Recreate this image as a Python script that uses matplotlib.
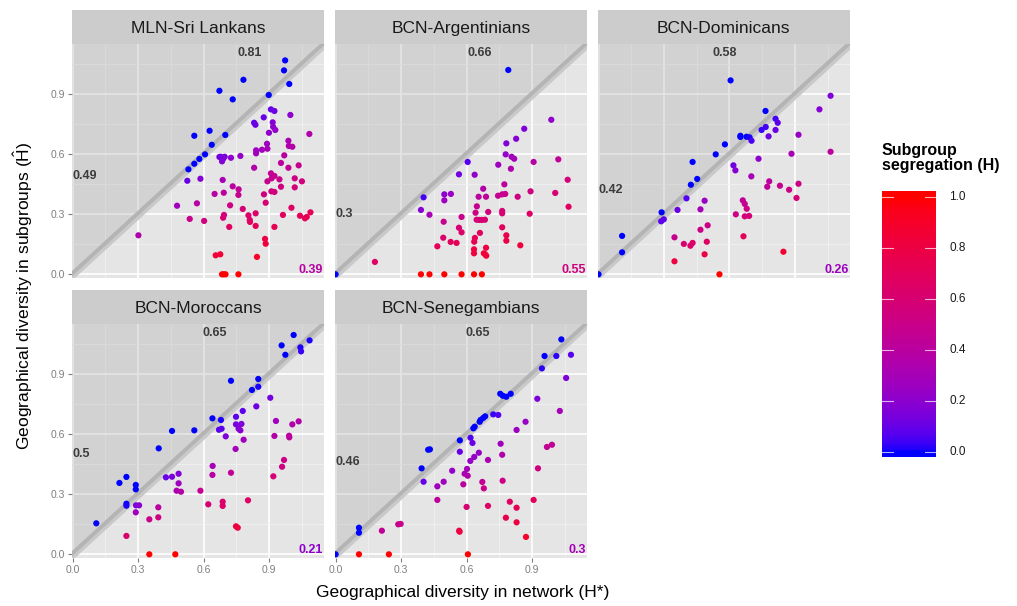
import matplotlib
matplotlib.use("Agg")
import matplotlib.pyplot as plt
import matplotlib.patheffects as pe
import numpy as np
from matplotlib.colors import ListedColormap

plt.rcParams['font.family'] = ['Liberation Sans', 'DejaVu Sans']
plt.rcParams['mathtext.fontset'] = 'custom'
plt.rcParams['mathtext.rm'] = 'Liberation Sans'
plt.rcParams['mathtext.it'] = 'Liberation Sans:italic'
plt.rcParams['mathtext.bf'] = 'Liberation Sans:bold'

# point data per community: network diversity, subgroup diversity, segregation
sri_x = [0.973, 0.968, 0.992, 0.782, 0.672, 0.733, 0.898, 0.557, 0.627, 0.699, 0.637, 0.606, 0.580, 0.557, 0.530,
         0.525, 0.585, 0.301, 0.478, 0.536, 0.569, 0.602, 0.650, 0.672, 0.678, 0.689, 0.696, 0.684, 0.725,
         0.687, 0.692, 0.733, 0.760, 0.768, 0.759, 0.721, 0.693, 0.689, 0.717, 0.779, 0.805, 0.811, 0.812,
         0.838, 0.838, 0.831, 0.831, 0.837, 0.875, 0.840, 0.840, 0.867, 0.890, 0.892, 0.899, 0.908, 0.924,
         0.916, 0.918, 0.928, 0.997, 1.084, 0.988, 0.990, 1.006, 0.969, 0.954, 0.908, 0.924, 0.892, 0.911,
         0.947, 0.988, 1.035, 1.017, 1.050, 0.910, 0.924, 0.954, 1.017, 0.876, 0.884, 1.002, 0.963, 0.924,
         1.041, 1.064, 1.072, 1.089, 0.881, 0.884, 0.844, 0.655, 0.676, 0.684, 0.692, 0.700, 0.759]
sri_y = [1.070, 1.020, 0.952, 0.973, 0.918, 0.875, 0.897, 0.693, 0.718, 0.697, 0.648, 0.600, 0.577, 0.553, 0.525,
         0.468, 0.478, 0.195, 0.343, 0.277, 0.355, 0.267, 0.402, 0.587, 0.588, 0.578, 0.588, 0.565, 0.583,
         0.472, 0.408, 0.440, 0.425, 0.592, 0.397, 0.345, 0.297, 0.283, 0.237, 0.327, 0.295, 0.272, 0.262,
         0.305, 0.242, 0.533, 0.758, 0.748, 0.785, 0.620, 0.605, 0.623, 0.653, 0.628, 0.708, 0.825, 0.817,
         0.760, 0.738, 0.722, 0.797, 0.702, 0.668, 0.642, 0.638, 0.595, 0.557, 0.505, 0.492, 0.465, 0.480,
         0.475, 0.533, 0.545, 0.480, 0.465, 0.415, 0.412, 0.438, 0.435, 0.400, 0.358, 0.333, 0.297, 0.237,
         0.293, 0.280, 0.287, 0.310, 0.177, 0.153, 0.087, 0.095, 0.100, 0.0, 0.0, 0.0, 0.0]
sri_h = [0.0, 0.0, 0.0, 0.0, 0.0, 0.0, 0.0, 0.0, 0.0, 0.0, 0.0, 0.0, 0.0, 0.0, 0.0,
         0.10, 0.18, 0.35, 0.28, 0.48, 0.38, 0.56, 0.38, 0.13, 0.13, 0.16, 0.15, 0.17, 0.20,
         0.31, 0.41, 0.40, 0.44, 0.23, 0.48, 0.52, 0.57, 0.59, 0.67, 0.58, 0.63, 0.66, 0.68,
         0.64, 0.71, 0.36, 0.09, 0.11, 0.10, 0.26, 0.28, 0.28, 0.27, 0.30, 0.21, 0.09, 0.12,
         0.17, 0.20, 0.22, 0.20, 0.35, 0.32, 0.35, 0.37, 0.39, 0.42, 0.44, 0.47, 0.48, 0.47,
         0.50, 0.46, 0.47, 0.53, 0.56, 0.54, 0.55, 0.54, 0.57, 0.54, 0.60, 0.67, 0.69, 0.74,
         0.72, 0.74, 0.73, 0.72, 0.80, 0.83, 0.90, 0.86, 0.85, 1.0, 1.0, 1.0, 1.0]

arg_x = [0.791, 0.605, 0.565, 0.403, 0.391, 0.430, 0.180, 0.0, 0.988, 0.864, 0.827, 0.782, 0.779, 0.806, 0.818,
         0.745, 0.803, 0.907, 1.020, 0.637, 0.676, 0.773, 1.063, 0.893, 1.006, 1.067, 0.498, 0.528, 0.498,
         0.655, 0.689, 0.744, 0.763, 0.777, 0.834, 0.647, 0.641, 0.699, 0.763, 0.763, 0.889, 0.495, 0.577,
         0.646, 0.658, 0.670, 0.684, 0.565, 0.577, 0.661, 0.763, 0.782, 0.782, 0.493, 0.527, 0.554, 0.466,
         0.638, 0.635, 0.634, 0.634, 0.689, 0.679, 0.690, 0.685, 0.846,
         0.391, 0.430, 0.498, 0.577, 0.634, 0.670]
arg_y = [1.022, 0.562, 0.500, 0.385, 0.322, 0.298, 0.062, 0.0, 0.773, 0.728, 0.678, 0.655, 0.600, 0.588, 0.578,
         0.548, 0.528, 0.562, 0.575, 0.498, 0.428, 0.450, 0.473, 0.415, 0.407, 0.338, 0.400, 0.402, 0.370,
         0.388, 0.388, 0.393, 0.400, 0.402, 0.388, 0.340, 0.308, 0.312, 0.317, 0.305, 0.303, 0.263, 0.287,
         0.273, 0.272, 0.272, 0.273, 0.233, 0.210, 0.207, 0.235, 0.195, 0.168, 0.183, 0.162, 0.157, 0.140,
         0.182, 0.163, 0.125, 0.105, 0.133, 0.105, 0.093, 0.100, 0.145,
         0.0, 0.0, 0.0, 0.0, 0.0, 0.0]
arg_h = [0.0, 0.07, 0.12, 0.04, 0.18, 0.31, 0.66, 0.0, 0.22, 0.16, 0.18, 0.16, 0.23, 0.27, 0.29,
         0.26, 0.34, 0.38, 0.44, 0.22, 0.37, 0.42, 0.56, 0.54, 0.60, 0.68, 0.20, 0.24, 0.26,
         0.41, 0.44, 0.47, 0.48, 0.48, 0.53, 0.47, 0.52, 0.55, 0.58, 0.60, 0.66, 0.47, 0.50,
         0.58, 0.59, 0.59, 0.60, 0.59, 0.64, 0.69, 0.69, 0.75, 0.79, 0.63, 0.69, 0.72, 0.70,
         0.71, 0.74, 0.80, 0.83, 0.81, 0.85, 0.87, 0.85, 0.83,
         1.0, 1.0, 1.0, 1.0, 1.0, 1.0]

dom_x = [0.605, 1.063, 1.012, 0.765, 0.811, 0.821, 0.766, 0.747, 0.811, 0.779, 0.916, 0.650, 0.650, 0.678, 0.692,
         0.701, 0.579, 0.537, 0.431, 0.733, 0.884, 1.063, 0.618, 0.627, 0.700, 0.452, 0.423, 0.782, 0.773,
         0.831, 0.873, 0.916, 0.907, 0.403, 0.486, 0.362, 0.467, 0.289, 0.287, 0.299, 0.108, 0.108, 0.0,
         0.661, 0.670, 0.679, 0.629, 0.670, 0.690, 0.500, 0.467, 0.348, 0.391, 0.421, 0.431, 0.496, 0.486,
         0.348, 0.664, 0.847, 0.554]
dom_y = [0.970, 0.893, 0.825, 0.817, 0.778, 0.758, 0.737, 0.722, 0.722, 0.690, 0.698, 0.693, 0.687, 0.688, 0.685,
         0.668, 0.650, 0.600, 0.562, 0.578, 0.603, 0.613, 0.545, 0.520, 0.490, 0.477, 0.448, 0.465, 0.438,
         0.443, 0.423, 0.453, 0.382, 0.380, 0.368, 0.322, 0.325, 0.310, 0.265, 0.275, 0.192, 0.110, 0.0,
         0.370, 0.352, 0.328, 0.300, 0.290, 0.292, 0.245, 0.223, 0.185, 0.152, 0.143, 0.157, 0.163, 0.100,
         0.065, 0.190, 0.113, 0.0]
dom_h = [0.0, 0.16, 0.18, 0.0, 0.04, 0.08, 0.04, 0.03, 0.11, 0.11, 0.24, 0.0, 0.0, 0.0, 0.01,
         0.05, 0.0, 0.0, 0.0, 0.21, 0.32, 0.42, 0.12, 0.17, 0.30, 0.0, 0.0, 0.41, 0.43,
         0.47, 0.52, 0.51, 0.58, 0.06, 0.24, 0.11, 0.30, 0.0, 0.08, 0.08, 0.0, 0.0, 0.0,
         0.44, 0.47, 0.52, 0.52, 0.57, 0.58, 0.51, 0.52, 0.47, 0.61, 0.66, 0.64, 0.67, 0.79,
         0.81, 0.71, 0.87, 1.0]

mor_x = [1.012, 0.957, 0.974, 1.043, 1.046, 1.085, 0.725, 0.850, 0.850, 0.821, 0.905, 0.841, 0.779, 0.748, 0.640,
         0.679, 0.455, 0.557, 0.748, 0.773, 0.670, 0.682, 0.760, 0.768, 0.701, 0.783, 0.394, 0.746, 0.931,
         1.006, 1.035, 0.924, 0.991, 0.992, 0.968, 0.959, 0.919, 0.641, 0.640, 0.725, 0.427, 0.455, 0.485,
         0.485, 0.476, 0.496, 0.585, 0.214, 0.246, 0.289, 0.289, 0.246, 0.246, 0.290, 0.304, 0.289, 0.392,
         0.392, 0.351, 0.621, 0.687, 0.687, 0.803, 0.748, 0.756, 0.108, 0.246, 0.351, 0.470]
mor_y = [1.097, 1.045, 0.998, 1.035, 1.015, 1.070, 0.868, 0.877, 0.838, 0.822, 0.783, 0.740, 0.717, 0.688, 0.680,
         0.672, 0.617, 0.620, 0.650, 0.652, 0.623, 0.628, 0.628, 0.620, 0.590, 0.573, 0.530, 0.527, 0.667,
         0.650, 0.665, 0.592, 0.593, 0.585, 0.472, 0.438, 0.390, 0.442, 0.397, 0.408, 0.385, 0.388, 0.403,
         0.355, 0.318, 0.313, 0.318, 0.357, 0.387, 0.347, 0.325, 0.253, 0.243, 0.245, 0.245, 0.210, 0.235,
         0.185, 0.175, 0.250, 0.263, 0.242, 0.270, 0.140, 0.133, 0.155, 0.092, 0.0, 0.0]
mor_h = [0.0, 0.0, 0.0, 0.01, 0.03, 0.01, 0.0, 0.0, 0.01, 0.0, 0.13, 0.12, 0.08, 0.08, 0.0,
         0.01, 0.0, 0.0, 0.13, 0.16, 0.07, 0.08, 0.17, 0.19, 0.16, 0.27, 0.0, 0.29, 0.28,
         0.35, 0.36, 0.36, 0.40, 0.41, 0.51, 0.54, 0.58, 0.31, 0.38, 0.44, 0.10, 0.15, 0.17,
         0.27, 0.33, 0.37, 0.46, 0.0, 0.0, 0.0, 0.0, 0.0, 0.01, 0.16, 0.19, 0.27, 0.40,
         0.53, 0.50, 0.60, 0.62, 0.65, 0.66, 0.81, 0.82, 0.0, 0.63, 1.0, 1.0]

sen_x = [1.034, 0.957, 1.011, 0.945, 1.078, 1.056, 0.924, 1.027, 0.754, 0.766, 0.782, 0.802, 0.722, 0.745, 0.685,
         0.676, 0.664, 0.660, 0.637, 0.631, 0.870, 0.829, 0.569, 0.618, 0.627, 0.569, 0.424, 0.432, 0.394,
         0.403, 0.756, 0.763, 0.656, 0.635, 0.617, 0.698, 0.602, 0.591, 0.605, 0.534, 0.585, 0.672, 0.679,
         0.765, 0.495, 0.466, 0.466, 0.968, 0.991, 0.927, 0.907, 0.798, 0.829, 0.698, 0.600, 0.780, 0.829,
         0.872, 0.566, 0.568, 0.287, 0.298, 0.212, 0.107, 0.107, 0.0, 0.107, 0.244, 0.606]
sen_y = [1.075, 0.992, 0.992, 0.930, 0.998, 0.882, 0.778, 0.717, 0.803, 0.793, 0.788, 0.803, 0.700, 0.697, 0.690,
         0.682, 0.672, 0.663, 0.638, 0.630, 0.663, 0.622, 0.570, 0.583, 0.557, 0.513, 0.523, 0.525, 0.430,
         0.363, 0.553, 0.498, 0.508, 0.487, 0.467, 0.472, 0.427, 0.403, 0.393, 0.418, 0.350, 0.362, 0.330,
         0.368, 0.363, 0.340, 0.272, 0.537, 0.548, 0.430, 0.272, 0.263, 0.233, 0.242, 0.237, 0.183, 0.160,
         0.087, 0.118, 0.113, 0.150, 0.152, 0.118, 0.133, 0.108, 0.0, 0.0, 0.0, 0.0]
sen_h = [0.0, 0.0, 0.02, 0.02, 0.07, 0.16, 0.16, 0.30, 0.0, 0.0, 0.0, 0.0, 0.03, 0.06, 0.0,
         0.0, 0.0, 0.0, 0.0, 0.0, 0.24, 0.25, 0.0, 0.06, 0.11, 0.10, 0.0, 0.0, 0.0,
         0.10, 0.27, 0.35, 0.23, 0.23, 0.24, 0.32, 0.29, 0.32, 0.35, 0.22, 0.40, 0.46, 0.51,
         0.52, 0.27, 0.27, 0.42, 0.45, 0.45, 0.54, 0.70, 0.67, 0.72, 0.65, 0.60, 0.77, 0.81,
         0.90, 0.79, 0.80, 0.48, 0.49, 0.44, 0.0, 0.0, 0.0, 1.0, 1.0, 1.0]

titles = ['MLN-Sri Lankans', 'BCN-Argentinians', 'BCN-Dominicans', 'BCN-Moroccans', 'BCN-Senegambians']
mean_network = [0.81, 0.66, 0.58, 0.65, 0.65]
mean_subgroup = [0.49, 0.3, 0.42, 0.5, 0.46]
segregation = [0.39, 0.55, 0.26, 0.21, 0.3]

panels = [(sri_x, sri_y, sri_h), (arg_x, arg_y, arg_h), (dom_x, dom_y, dom_h),
          (mor_x, mor_y, mor_h), (sen_x, sen_y, sen_h)]


# blue -> red gradient interpolated in CIE Lab
def to_lab(rgb):
    c = np.asarray(rgb, float)
    lin = np.where(c <= 0.04045, c / 12.92, ((c + 0.055) / 1.055) ** 2.4)
    m = np.array([[0.4124, 0.3576, 0.1805], [0.2126, 0.7152, 0.0722], [0.0193, 0.1192, 0.9505]])
    t = m @ lin / np.array([0.95047, 1.0, 1.08883])
    d = 6 / 29
    f = np.where(t > d ** 3, np.cbrt(t), t / (3 * d * d) + 4 / 29)
    return np.array([116 * f[1] - 16, 500 * (f[0] - f[1]), 200 * (f[1] - f[2])])


def from_lab(lab):
    L, a, b = lab
    fy = (L + 16) / 116
    f = np.array([fy + a / 500, fy, fy - b / 200])
    d = 6 / 29
    t = np.where(f > d, f ** 3, 3 * d * d * (f - 4 / 29)) * np.array([0.95047, 1.0, 1.08883])
    minv = np.linalg.inv(np.array([[0.4124, 0.3576, 0.1805], [0.2126, 0.7152, 0.0722], [0.0193, 0.1192, 0.9505]]))
    lin = np.clip(minv @ t, 0, 1)
    c = np.where(lin <= 0.0031308, 12.92 * lin, 1.055 * lin ** (1 / 2.4) - 0.055)
    return np.clip(c, 0, 1)


lab_lo, lab_hi = to_lab([0, 0, 1]), to_lab([1, 0, 0])
cmap = ListedColormap([from_lab(lab_lo + (lab_hi - lab_lo) * s) for s in np.linspace(0, 1, 256)])

W, H = 1017, 606
fig = plt.figure(figsize=(W / 100, H / 100), dpi=100)


def px_axes(l, t, w, h):
    return fig.add_axes([l / W, 1 - (t + h) / H, w / W, h / H])


lefts = [71.7, 334.6, 597.5]
plot_tops = [44, 324]
pw, ph, sh = 252.5, 234, 34
xlim = (-0.0046, 1.152)
ylim = (-0.0185, 1.152)

for i, (xs, ys, hs) in enumerate(panels):
    row, col = divmod(i, 3)
    left, top = lefts[col], plot_tops[row]

    strip = px_axes(left, top - sh, pw, sh)
    strip.set_facecolor('#CCCCCC')
    strip.set_xticks([]); strip.set_yticks([])
    for s in strip.spines.values():
        s.set_visible(False)
    strip.text(0.5, 0.47, titles[i], ha='center', va='center', fontsize=12.5, color='#1A1A1A',
               transform=strip.transAxes)

    ax = px_axes(left, top, pw, ph)
    ax.set_facecolor('#E5E5E5')
    for s in ax.spines.values():
        s.set_visible(False)
    ax.set_xlim(xlim); ax.set_ylim(ylim)
    ax.set_xticks([0, 0.3, 0.6, 0.9])
    ax.set_yticks([0, 0.3, 0.6, 0.9])
    ax.set_xticks([0.15, 0.45, 0.75, 1.05], minor=True)
    ax.set_yticks([0.15, 0.45, 0.75, 1.05], minor=True)
    ax.set_xticklabels(['0.0', '0.3', '0.6', '0.9'])
    ax.set_yticklabels(['0.0', '0.3', '0.6', '0.9'])
    ax.grid(which='major', color='white', lw=1.2)
    ax.grid(which='minor', color='#F2F2F2', lw=0.6)
    ax.set_axisbelow(True)
    ax.tick_params(which='minor', length=0)
    ax.tick_params(which='major', length=3, width=0.8, color='#7F7F7F', labelcolor='#7F7F7F',
                   labelsize=7.5, pad=2)
    if col != 0:
        ax.tick_params(axis='y', which='major', length=0, labelleft=False)
    if row == 0:
        ax.tick_params(axis='x', which='major', length=0, labelbottom=False)

    # shaded area above the identity line
    ax.fill_between([-0.2, 1.4], [-0.2, 1.4], 1.4, color='#A8A8A8', alpha=0.3, lw=0, zorder=1)
    ax.axline((0, 0), slope=1, color='#B6B6B6', lw=2.5, zorder=2,
              path_effects=[pe.Stroke(linewidth=4.5, foreground='#C9C9C9', offset=(0.6, -0.6)),
                            pe.Stroke(linewidth=2.8, foreground='#B4B4B4', offset=(-0.5, 0.5))])

    ax.scatter(xs, ys, c=hs, cmap=cmap, vmin=0, vmax=1, s=20, linewidths=0, zorder=3)

    ax.text(mean_network[i], 1.108, str(mean_network[i]), ha='center', va='center',
            fontsize=9, fontweight='bold', color='#3C3C3C', zorder=4)
    ax.text(-0.002, mean_subgroup[i], str(mean_subgroup[i]), ha='left', va='center',
            fontsize=9, fontweight='bold', color='#3C3C3C', zorder=4)
    ax.text(1.147, 0.02, str(segregation[i]), ha='right', va='center',
            fontsize=9, fontweight='bold', color=cmap(segregation[i]), zorder=4)

fig.text(463 / W, 1 - 592 / H, 'Geographical diversity in network (H*)', ha='center', va='center',
         fontsize=12.6)
fig.text(23 / W, 1 - 296 / H, r'Geographical diversity in subgroups ($\hat{\mathrm{H}}$)', ha='center',
         va='center', rotation=90, fontsize=12.6)

# colour bar legend
cb = px_axes(882, 191, 54, 266)
lo, hi = -0.0196, 1.0235
grad = np.clip(np.linspace(lo, hi, 300), 0, 1)[:, None]
cb.imshow(grad, cmap=cmap, vmin=0, vmax=1, aspect='auto', origin='lower', extent=(0, 1, lo, hi))
cb.set_xlim(0, 1); cb.set_ylim(lo, hi)
cb.set_xticks([]); cb.set_yticks([])
for s in cb.spines.values():
    s.set_visible(False)
for v in [0, 0.2, 0.4, 0.6, 0.8, 1.0]:
    cb.plot([0, 0.2], [v, v], color='white', lw=0.8, alpha=0.7)
    cb.plot([0.8, 1], [v, v], color='white', lw=0.8, alpha=0.7)
    fig.text(949 / W, 1 - (452 - v * 255) / H, f'{v:.1f}', ha='left', va='center', fontsize=8.5,
             color='#1A1A1A')
fig.text(882 / W, 1 - 143 / H, 'Subgroup\nsegregation (H)', ha='left', va='top', fontsize=11.5,
         fontweight='bold', linespacing=1.0)

fig.savefig('out.png', dpi=100)
